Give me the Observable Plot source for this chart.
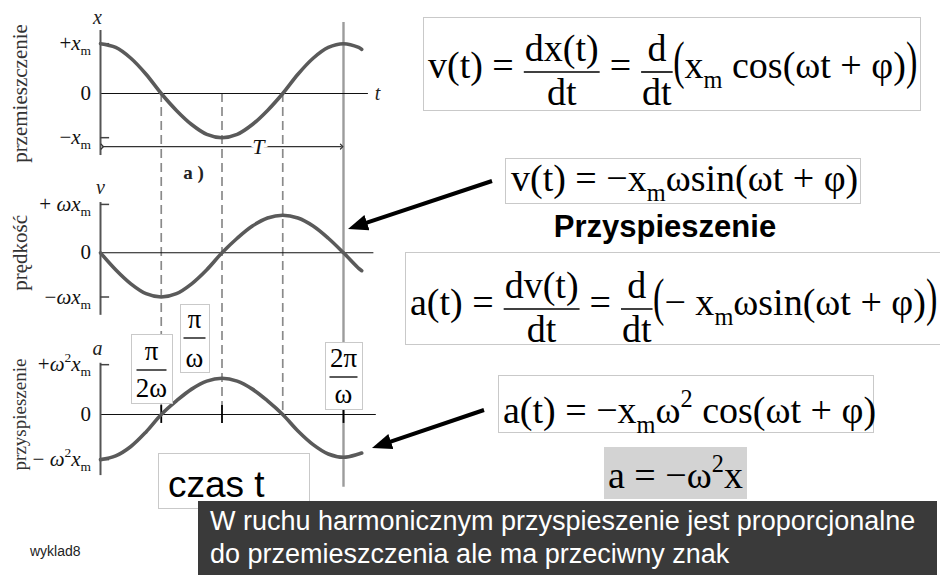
<!DOCTYPE html>
<html><head><meta charset="utf-8">
<script src="https://cdn.jsdelivr.net/npm/d3@7"></script>
<script src="https://cdn.jsdelivr.net/npm/@observablehq/plot@0.6"></script>
<style>
body{margin:0;background:#fff}
#wrap{position:relative;width:940px;height:587px;overflow:hidden;background:#fff}
#wrap svg{position:absolute;left:0;top:0}
#wrap svg text{white-space:pre}
</style></head>
<body><div id="wrap"></div>
<script>
const SERIF = "'Liberation Serif','Times New Roman',serif";
const SANS = "'Liberation Sans',Arial,sans-serif";

// time in quarter periods (1 = π/2ω)
const tQ = [0,0.25,0.5,0.75,1,1.25,1.5,1.75,2,2.25,2.5,2.75,3,3.25,3.5,3.75,4,4.25,4.3];
const xDisp = [1.06,0.98,0.75,0.41,0,-0.36,-0.66,-0.87,-0.94,-0.87,-0.66,-0.36,0,0.41,0.75,0.98,1.06,0.98,0.94];
const vVel  = [0,-0.36,-0.66,-0.87,-0.94,-0.87,-0.66,-0.36,0,0.31,0.57,0.74,0.80,0.74,0.57,0.31,0,-0.33,-0.38];
const aAcc  = [-0.96,-0.88,-0.68,-0.37,0,0.29,0.54,0.71,0.77,0.71,0.54,0.29,0,-0.35,-0.64,-0.84,-0.91,-0.84,-0.82];
const panelNames = ["x","v","a"];
const panelTitles = ["przemieszczenie","prędkość","przyspieszenie"];
const tickPos = [[1.06,-0.94],[1.03,-0.94],[1.06,-0.96]];
const guideTimes = [1,2,3];
const markTimes = [1,2,4];

// layout (not data)
const offs = [0,-3.39,-6.83];
const axisExt = [[1.34,-1.32],[1.07,-1.33],[1.09,-1.30]];
const zeroEnd = [4.41,4.5,4.54];
const titleSize = [21,21,19];
const series = [xDisp, vVel, aAcc];

const curveRows = panelNames.flatMap((p,i)=>tQ.map((t,k)=>({panel:p,t,y:series[i][k]+offs[i]})));
const panels = panelNames.map((p,i)=>({p,off:offs[i],top:offs[i]+axisExt[i][0],bot:offs[i]+axisExt[i][1],zEnd:zeroEnd[i],title:panelTitles[i],fs:titleSize[i]}));
const ticks = panelNames.flatMap((p,i)=>tickPos[i].map(v=>({y:offs[i]+v})));

const plot = Plot.plot({
  width:940, height:587,
  x:{domain:[0,4], range:[100,343], axis:null},
  y:{domain:[1,-6.83], range:[46,414], axis:null},
  style:{background:"transparent", overflow:"visible"},
  marks:[
    Plot.ruleX(guideTimes,{x:d=>d, y1:0, y2:offs[2], stroke:"#8a8a8a", strokeWidth:1.7, strokeDasharray:"9,5"}),
    Plot.ruleX([4],{x:d=>d, y1:1.51, y2:-8.38, stroke:"#9c9c9c", strokeWidth:2.4}),
    Plot.ruleY(panels,{y:"off", x1:0, x2:"zEnd", stroke:"#111", strokeWidth:1.1}),
    Plot.ruleX(panels,{x:0, y1:"top", y2:"bot", stroke:"#555", strokeWidth:2}),
    Plot.ruleY(ticks,{y:"y", x1:0, x2:0.15, stroke:"#444", strokeWidth:1.5}),
    Plot.ruleX(markTimes,{x:d=>d, y1:offs[2]+0.19, y2:offs[2]-0.19, stroke:"#000", strokeWidth:1.8}),
    Plot.line(curveRows,{x:"t", y:"y", z:"panel", stroke:"#5a5a5a", strokeWidth:3.6, curve:"catmull-rom"}),
    Plot.link([{x1:0.03,x2:3.97,y:-1.13}],{x1:"x1",x2:"x2",y1:"y",y2:"y",stroke:"#333",strokeWidth:1.2,markerStart:"arrow",markerEnd:"arrow"}),
    Plot.text(["T"],{x:2.6,y:-1.13,text:d=>d,fontFamily:SERIF,fontStyle:"italic",fontSize:22,fill:"#111",stroke:"white",strokeWidth:8}),
    Plot.text(["a )"],{x:1.53,y:-1.68,text:d=>d,fontFamily:SERIF,fontWeight:"bold",fontSize:19,fill:"#222"}),
    Plot.text([{s:"x",t:-0.05,y:1.62},{s:"t",t:4.56,y:0},{s:"v",t:0,y:-2.0},{s:"a",t:-0.05,y:-5.43}],
      {x:"t",y:"y",text:"s",fontFamily:SERIF,fontStyle:"italic",fontSize:20,fill:"#222"}),
    Plot.text(panels,{x:-1.32,y:"off",text:"title",rotate:-90,fontFamily:SERIF,fontSize:"fs",fill:"#333"})
  ]
});
const wrap = document.getElementById("wrap");
wrap.appendChild(plot);
const xs = plot.scale("x"), ys = plot.scale("y");

// overlay for annotations
const svg = d3.select(wrap).append("svg").attr("width",940).attr("height",587);
const defs = svg.append("defs");
defs.append("marker").attr("id","ah").attr("viewBox","0 0 10 8").attr("refX",6).attr("refY",4)
  .attr("markerWidth",5).attr("markerHeight",4).attr("orient","auto")
  .append("path").attr("d","M0,0L10,4L0,8z").attr("fill","#000");

function rich(g,x,y,segs,fs,opts={}){
  const t=g.append("text").attr("x",x).attr("y",y).attr("font-family",opts.font||SERIF).attr("font-size",fs).attr("fill",opts.fill||"#000");
  if(opts.anchor) t.attr("text-anchor",opts.anchor);
  let shift=0;
  for(const [s,st] of segs){
    const target = st==="s"? fs*0.25 : st==="p"? -fs*0.42 : 0;
    const ts=t.append("tspan").text(s);
    if(target!==shift) ts.attr("dy",target-shift);
    shift=target;
    if(st==="s"||st==="p") ts.attr("font-size",fs*0.64);
    if(st==="i") ts.attr("font-style","italic");
  }
  return t;
}
const len = t=>t.node().getComputedTextLength();
function formula(g,x0,y0,items,fs,fr){
  let x=x0;
  for(const it of items){
    if(it.frac){
      const tn=rich(g,0,y0+fr.num,it.frac[0],fs,{anchor:"middle"});
      const td=rich(g,0,y0+fr.den,it.frac[1],fs,{anchor:"middle"});
      const w=Math.max(len(tn),len(td))+3;
      tn.attr("x",x+w/2); td.attr("x",x+w/2);
      g.append("line").attr("x1",x+0.5).attr("x2",x+w-0.5).attr("y1",y0+fr.bar).attr("y2",y0+fr.bar).attr("stroke","#000").attr("stroke-width",1.6);
      x+=w;
    } else if(it.big){
      const t=g.append("text").attr("transform",`translate(${x},${y0}) scale(0.9,1.4)`).attr("font-family",SERIF).attr("font-size",fs).text(it.big);
      x+=len(t)*0.9;
    } else { const t=rich(g,x,y0,it,fs); x+=len(t); }
  }
  return x;
}
function box(x,y,w,h,fill="#fff",stroke="#c9c9c9"){
  svg.append("rect").attr("x",x+0.5).attr("y",y+0.5).attr("width",w).attr("height",h).attr("fill",fill).attr("stroke",stroke).attr("stroke-width",1);
}

// tick labels through the plot's scales
const tickLabels = [
  [[["+","n"],["x","i"],["m","s"]],[["0","n"]],[["−","n"],["x","i"],["m","s"]]],
  [[["+ ","n"],["ωx","i"],["m","s"]],[["0","n"]],[["−","n"],["ωx","i"],["m","s"]]],
  [[["+","n"],["ω","i"],["2","p"],["x","i"],["m","s"]],[["0","n"]],[["− ","n"],["ω","i"],["2","p"],["x","i"],["m","s"]]]
];
panelNames.forEach((p,i)=>{
  const vals=[tickPos[i][0],0,tickPos[i][1]];
  vals.forEach((v,k)=>{
    rich(svg, xs.apply(0)-9, ys.apply(offs[i]+v)+7, tickLabels[i][k], 21, {anchor:"end", fill:"#111"});
  });
});

// fraction labels of the time axis
function fracBox(x,y,w,h,num,den,cx,nb,bar,db,bw){
  box(x,y,w,h);
  rich(svg,cx,nb,num,27,{anchor:"middle"});
  rich(svg,cx,db,den,27,{anchor:"middle"});
  svg.append("line").attr("x1",cx-bw/2).attr("x2",cx+bw/2).attr("y1",bar).attr("y2",bar).attr("stroke","#000").attr("stroke-width",1.3);
}
fracBox(131,334,41,69,[["π","n"]],[["2ω","n"]],151.5,360,370,397,30);
fracBox(180,304,29,68,[["π","n"]],[["ω","n"]],194.5,328,338,367,22);
fracBox(325,342,37,67,[["2π","n"]],[["ω","n"]],343.5,367,377,403,28);

box(158,453,151,55);
svg.append("text").attr("x",168).attr("y",497).attr("font-family",SANS).attr("font-size",37).text("czas t");

// formula boxes
const FR={num:-17,bar:-6,den:27};
box(423,17,497,93);
formula(svg,428,78,[
  [["v(t) = ","n"]],
  {frac:[[["dx(t)","n"]],[["dt","n"]]]},
  [[" = ","n"]],
  {frac:[[["d","n"]],[["dt","n"]]]},
  {big:"("},
  [["x","n"],["m","s"],[" cos(ωt + φ)","n"]],
  {big:")"}
],38,FR);

box(505,158,355,45);
formula(svg,511,191,[[["v(t) = −x","n"],["m","s"],["ωsin(ωt + φ)","n"]]],38,FR);

svg.append("text").attr("x",665).attr("y",237).attr("text-anchor","middle").attr("font-family",SANS).attr("font-weight","bold").attr("font-size",31).text("Przyspieszenie");

box(405,252,545,92);
formula(svg,410,315,[
  [["a(t) = ","n"]],
  {frac:[[["dv(t)","n"]],[["dt","n"]]]},
  [[" = ","n"]],
  {frac:[[["d","n"]],[["dt","n"]]]},
  {big:"("},
  [["− x","n"],["m","s"],["ωsin(ωt + φ)","n"]],
  {big:")"}
],38,FR);

box(498,375,375,57);
formula(svg,503,423,[[["a(t) = −x","n"],["m","s"],["ω","n"],["2","p"],[" cos(ωt + φ)","n"]]],38,FR);

box(604,447,142,51,"#d3d3d3","#d3d3d3");
formula(svg,608,488,[[["a = −ω","n"],["2","p"],["x","n"]]],38,FR);

// arrows
function arrow(x1,y1,x2,y2){
  const dx=x2-x1, dy=y2-y1, L=Math.hypot(dx,dy), k=(L-8)/L;
  svg.append("line").attr("x1",x1).attr("y1",y1).attr("x2",x1+dx*k).attr("y2",y1+dy*k)
    .attr("stroke","#000").attr("stroke-width",4).attr("marker-end","url(#ah)");
}
arrow(492,181,348,229);
arrow(484,410,372,448);

// bottom note
svg.append("rect").attr("x",198).attr("y",501).attr("width",739).attr("height",74).attr("fill","#3a3a3a");
svg.append("text").attr("x",210).attr("y",530).attr("font-family",SANS).attr("font-size",27).attr("fill","#fff").text("W ruchu harmonicznym przyspieszenie jest proporcjonalne");
svg.append("text").attr("x",210).attr("y",563).attr("font-family",SANS).attr("font-size",27).attr("fill","#fff").text("do przemieszczenia ale ma przeciwny znak");
svg.append("text").attr("x",30).attr("y",556).attr("font-family",SANS).attr("font-size",14).attr("fill","#222").text("wyklad8");
</script></body></html>
